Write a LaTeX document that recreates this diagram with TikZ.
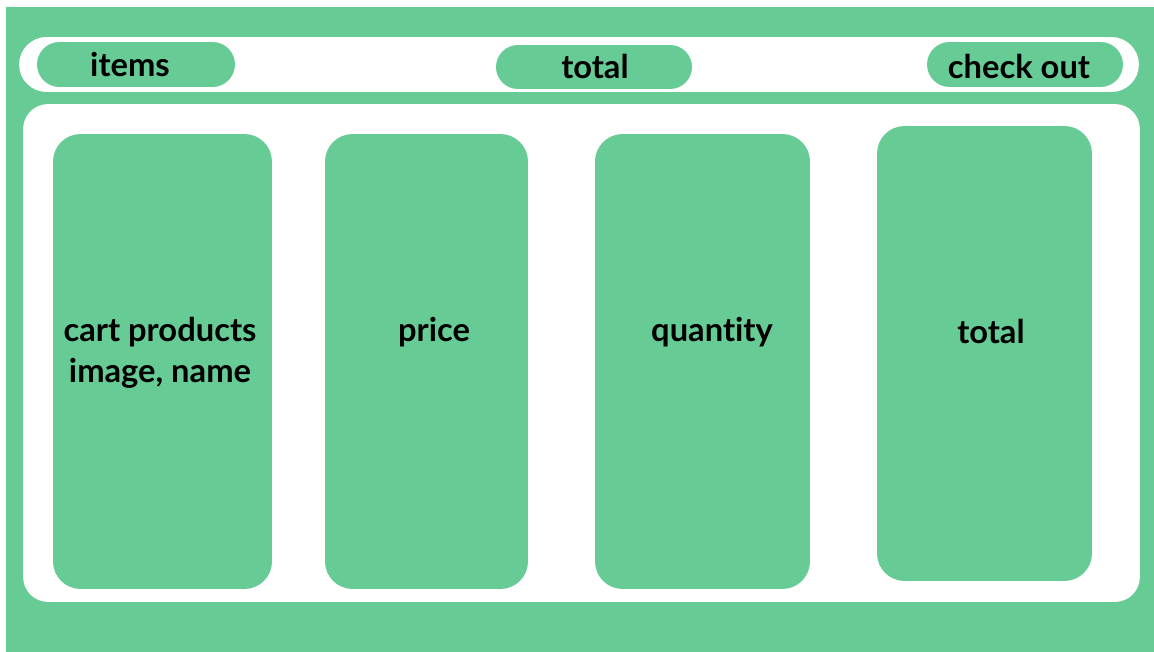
\documentclass[tikz,border=0pt]{standalone}
\usepackage{fontspec}
\setmainfont{Lato}[Ligatures=NoCommon]
\usepackage{xcolor}
\definecolor{cartgreen}{RGB}{102,203,148}
\usetikzlibrary{positioning}

\begin{document}
\begin{tikzpicture}[x=0.02cm,y=-0.02cm,
  panel/.style={fill=white,inner sep=0,outer sep=0},
  pill/.style={fill=cartgreen,inner sep=0,outer sep=0,minimum height=0.9cm,rounded corners=0.45cm},
  column/.style={fill=cartgreen,inner sep=0,outer sep=0,minimum height=9.1cm,rounded corners=0.55cm},
  lbl/.style={font=\bfseries\fontsize{18.6}{23}\selectfont,align=center,inner sep=0}]
\useasboundingbox (0,0) rectangle (1154,652);
\fill[white] (0,0) rectangle (1154,652);
\fill[cartgreen] (6,7) rectangle (1154,652);

% top bar
\node[panel,minimum width=22.4cm,minimum height=1.1cm,rounded corners=0.55cm] (topbar) at (579,64.5) {};
\node[pill,minimum width=3.96cm] (items) at (136,64.5) {};
\node[pill,minimum width=3.92cm,minimum height=0.88cm,rounded corners=0.44cm] (sum) at (594,67) {};
\node[pill,minimum width=3.92cm] (checkout) at (1025,64.5) {};
\node[lbl] (itemstxt) at (130,65) {items};
\node[lbl] (sumtxt) at (595,66) {total};
\node[lbl] (checkouttxt) at (1019,66) {check out};

% cart table
\node[panel,minimum width=22.34cm,minimum height=9.96cm,rounded corners=0.5cm] (table) at (581.5,353) {};
\node[column,minimum width=4.38cm] (products) at (162.5,361.5) {};
\node[column,minimum width=4.06cm] (price) at (426.5,361.5) {};
\node[column,minimum width=4.3cm] (quantity) at (702.5,361.5) {};
\node[column,minimum width=4.3cm] (total) at (984.5,353.5) {};
\node[lbl] (productstxt) at (160,353) {cart products\\image, name};
\node[lbl] (pricetxt) at (434,332) {price};
\node[lbl] (quantitytxt) at (712,332) {quantity};
\node[lbl] (totaltxt) at (991,331) {total};
\end{tikzpicture}
\end{document}
